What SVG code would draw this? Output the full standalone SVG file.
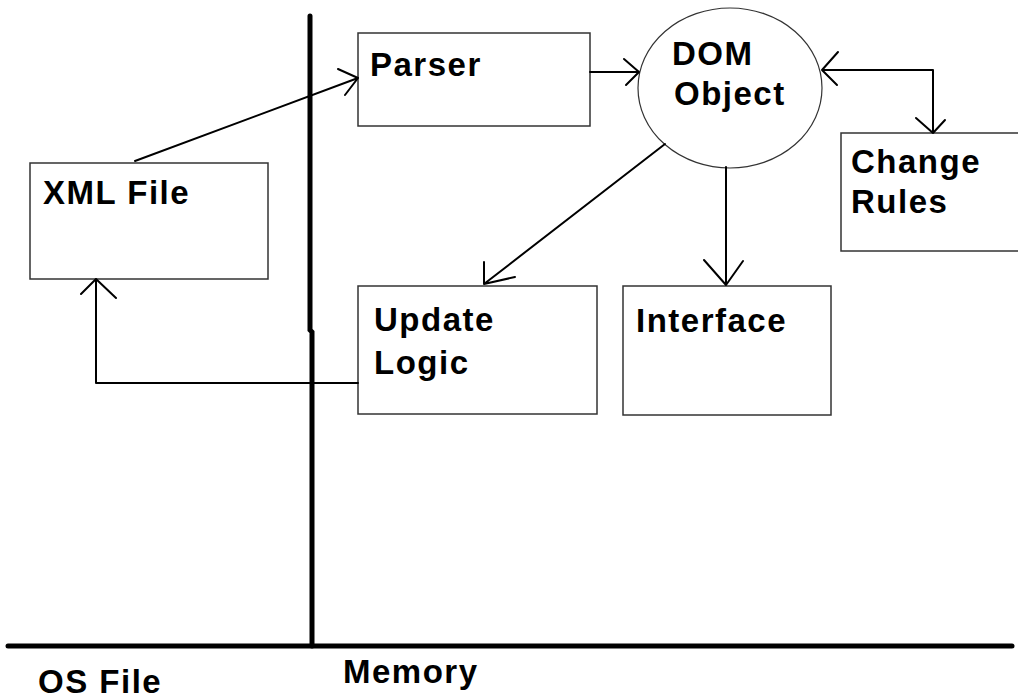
<svg xmlns="http://www.w3.org/2000/svg" width="1018" height="698" viewBox="0 0 1018 698">
<style>
.box{fill:#fff;stroke:#333;stroke-width:1.5}
.lbl{font-family:"Liberation Sans",Arial,sans-serif;font-weight:bold;font-size:33px;letter-spacing:1.5px;fill:#000}
.c{fill:none;stroke:#000;stroke-width:2;stroke-linecap:round;stroke-linejoin:round}
.axis{fill:none;stroke:#000;stroke-width:5;stroke-linecap:round}
</style>
<rect width="1018" height="698" fill="#fff"/>
<g id="axes">
<path class="axis" d="M310,16 L310,330 L312,332 L312,646"/>
<path class="axis" d="M8,646 L1012,646"/>
<text class="lbl" x="38" y="693">OS File</text>
<text class="lbl" x="343" y="683">Memory</text>
</g>
<g id="xml-file">
<rect class="box" x="30" y="163" width="238" height="116"/>
<text class="lbl" x="43" y="204">XML File</text>
</g>
<g id="parser">
<rect class="box" x="358" y="33" width="232" height="93"/>
<text class="lbl" x="370" y="76">Parser</text>
</g>
<g id="dom-object">
<ellipse class="box" cx="730" cy="88" rx="92" ry="80" style="stroke-width:1.2"/>
<text class="lbl" x="672" y="65">DOM</text>
<text class="lbl" x="674" y="105">Object</text>
</g>
<g id="change-rules">
<rect class="box" x="841" y="133" width="190" height="118"/>
<text class="lbl" x="851" y="173">Change</text>
<text class="lbl" x="851" y="213">Rules</text>
</g>
<g id="update-logic">
<rect class="box" x="358" y="286" width="239" height="128"/>
<text class="lbl" x="374" y="331">Update</text>
<text class="lbl" x="374" y="374">Logic</text>
</g>
<g id="interface">
<rect class="box" x="623" y="286" width="208" height="129"/>
<text class="lbl" x="636" y="332">Interface</text>
</g>
<g id="connectors">
<path class="c" d="M135,161 L358,78 M338,69 L358,78 L345,95"/>
<path class="c" d="M590,72 L639,72 M624,59 L639,72 L626,85"/>
<path class="c" d="M822,70 L933,70 L933,133 M838,52 L822,70 L837,85 M916,118 L933,133 L945,120"/>
<path class="c" d="M726,167 L726,285 M704,260 L726,285 L743,261"/>
<path class="c" d="M665,144 L484,284 M484,262 L484,284 L515,277"/>
<path class="c" d="M358,383 L96,383 L96,279 M81,294 L96,279 L116,298"/>
</g>
</svg>
